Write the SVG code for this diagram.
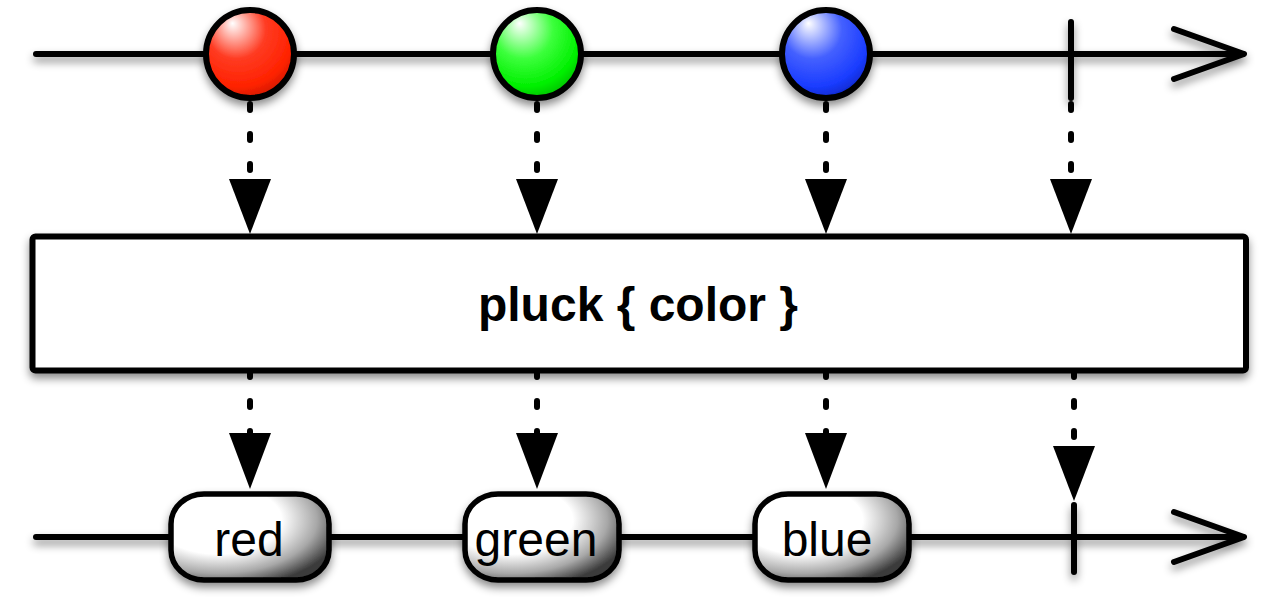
<svg xmlns="http://www.w3.org/2000/svg" width="1280" height="610" viewBox="0 0 1280 610">
<style>
.ln{fill:none;stroke:#000;stroke-width:6;stroke-linecap:round;stroke-linejoin:round}
.dash{fill:none;stroke:#000;stroke-width:6;stroke-linecap:round;stroke-dasharray:6 24}
.head{fill:#000}
.marble{stroke:#000;stroke-width:6}
.pill{stroke:#000;stroke-width:5.5;fill:url(#pillG)}
.lbl{font-family:"Liberation Sans",Arial,sans-serif;font-size:48px;fill:#000;text-anchor:middle}
.op{font-family:"Liberation Sans",Arial,sans-serif;font-size:48px;font-weight:bold;fill:#000;text-anchor:middle}
</style>
<defs>
<filter id="sh" x="-20%" y="-20%" width="140%" height="160%">
<feDropShadow dx="0" dy="5" stdDeviation="4" flood-color="#000" flood-opacity="0.45"/>
</filter>
<radialGradient id="redG" cx="0.4" cy="0.3" r="0.75" fx="0.3" fy="0.15">
<stop offset="0" stop-color="#ffffff"/>
<stop offset="0.45" stop-color="#ff3b22"/>
<stop offset="0.8" stop-color="#ff2200"/>
<stop offset="1" stop-color="#c81800"/>
</radialGradient>
<radialGradient id="greenG" cx="0.4" cy="0.3" r="0.75" fx="0.3" fy="0.15">
<stop offset="0" stop-color="#ffffff"/>
<stop offset="0.45" stop-color="#3cff3c"/>
<stop offset="0.8" stop-color="#00f000"/>
<stop offset="1" stop-color="#00b800"/>
</radialGradient>
<radialGradient id="blueG" cx="0.4" cy="0.3" r="0.75" fx="0.3" fy="0.15">
<stop offset="0" stop-color="#ffffff"/>
<stop offset="0.45" stop-color="#4460ff"/>
<stop offset="0.8" stop-color="#1a3cff"/>
<stop offset="1" stop-color="#0b24c0"/>
</radialGradient>
<radialGradient id="pillG" cx="0.3" cy="0.3" r="0.8">
<stop offset="0" stop-color="#ffffff"/>
<stop offset="0.5" stop-color="#ffffff"/>
<stop offset="0.78" stop-color="#a8a8a8"/>
<stop offset="1" stop-color="#3a3a3a"/>
</radialGradient>
</defs>

<g id="timeline-top" filter="url(#sh)">
<path class="ln" d="M36,54 H1243"/>
<path class="ln" d="M1174,29 L1244,54 L1174,79"/>
<path class="ln" d="M1071,22 V98"/>
</g>

<g id="timeline-bottom" filter="url(#sh)">
<path class="ln" d="M36,537 H1243"/>
<path class="ln" d="M1174,512 L1244,537 L1174,562"/>
<path class="ln" d="M1074,505 V572"/>
</g>

<g id="connectors">
<path class="dash" d="M250,104 V180"/>
<path class="dash" d="M537,104 V180"/>
<path class="dash" d="M826,104 V180"/>
<path class="dash" d="M1071,104 V180"/>
<polygon class="head" points="229,179 271,179 250,234"/>
<polygon class="head" points="516,179 558,179 537,234"/>
<polygon class="head" points="805,179 847,179 826,234"/>
<polygon class="head" points="1050,179 1092,179 1071,234"/>
<path class="dash" d="M250,371 V433"/>
<path class="dash" d="M537,371 V433"/>
<path class="dash" d="M826,371 V433"/>
<path class="dash" d="M1074,371 V440"/>
<polygon class="head" points="229,433 271,433 250,489"/>
<polygon class="head" points="516,433 558,433 537,489"/>
<polygon class="head" points="805,433 847,433 826,489"/>
<polygon class="head" points="1053,446 1095,446 1074,501"/>
</g>

<g id="marble-red" filter="url(#sh)">
<circle class="marble" cx="250" cy="54" r="44" fill="url(#redG)"/>
</g>
<g id="marble-green" filter="url(#sh)">
<circle class="marble" cx="537" cy="54" r="44" fill="url(#greenG)"/>
</g>
<g id="marble-blue" filter="url(#sh)">
<circle class="marble" cx="826" cy="54" r="44" fill="url(#blueG)"/>
</g>

<g id="operator">
<rect x="32.5" y="236.5" width="1213.5" height="134" rx="3" fill="#fff" stroke="#000" stroke-width="6" filter="url(#sh)"/>
<text class="op" x="638" y="321">pluck { color }</text>
</g>

<g id="result-red">
<rect class="pill" x="171" y="494" width="158" height="86" rx="33" ry="30" filter="url(#sh)"/>
<text class="lbl" x="249" y="556">red</text>
</g>
<g id="result-green">
<rect class="pill" x="465" y="494" width="154" height="86" rx="33" ry="30" filter="url(#sh)"/>
<text class="lbl" x="536" y="556">green</text>
</g>
<g id="result-blue">
<rect class="pill" x="755" y="494" width="154" height="86" rx="33" ry="30" filter="url(#sh)"/>
<text class="lbl" x="827" y="556">blue</text>
</g>
</svg>
